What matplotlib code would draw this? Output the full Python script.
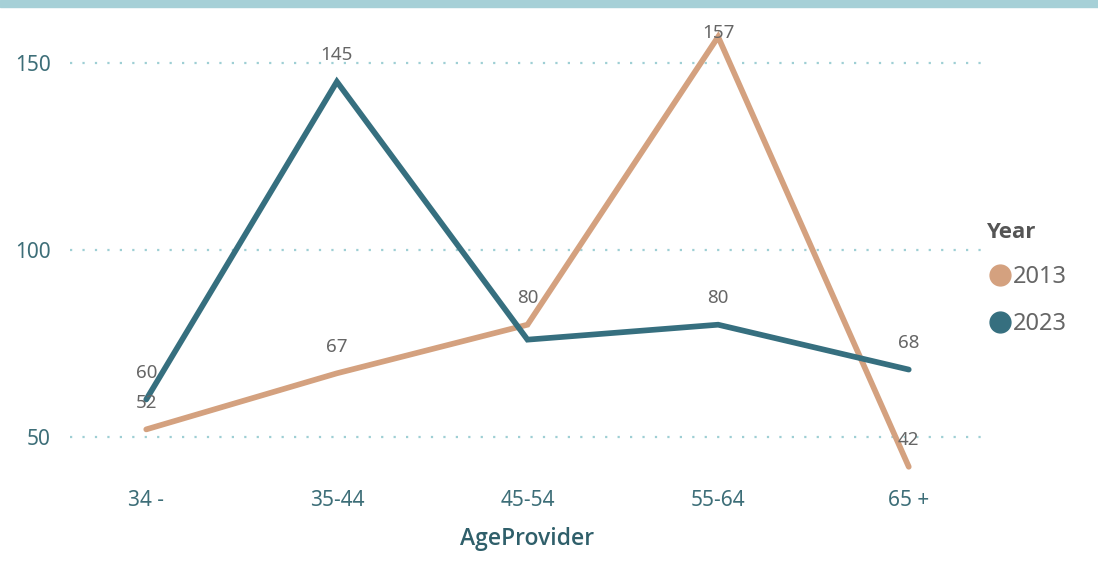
import matplotlib
matplotlib.use('Agg')
import matplotlib.pyplot as plt
from matplotlib.lines import Line2D
import numpy as np

plt.rcParams['font.family'] = ['Noto Sans', 'DejaVu Sans']

ages = ['34 -', '35-44', '45-54', '55-64', '65 +']
years = ['2013', '2023']
v2013 = [52, 67, 80, 157, 42]
v2023 = [60, 145, 76, 80, 68]
# Power BI hid the 2023 label at 45-54 (overlap)
show2013 = [True, True, True, True, True]
show2023 = [True, True, False, True, True]

c2013 = '#D4A17F'
c2023 = '#366F7F'
tick_col = '#3D6E78'
lab_col = '#666666'

fig = plt.figure(figsize=(10.98, 5.61), dpi=100)
# top bar
fig.patches.append(plt.Rectangle((0, 1 - 7/561), 1, 7/561, transform=fig.transFigure,
                                 color='#A6D0D7', zorder=0))

ax = fig.add_axes([70/1098, 86/561, 915/1098, 455/561])
x = np.arange(len(ages))

ax.plot(x, v2013, color=c2013, lw=4.1, solid_capstyle='round', solid_joinstyle='miter', zorder=3)
ax.plot(x, v2023, color=c2023, lw=4.1, solid_capstyle='round', solid_joinstyle='miter', zorder=4)

ax.set_xlim(-0.4, 4.4)
ax.set_ylim(39.8, 161.5)
ax.set_yticks([50, 100, 150])
ax.set_xticks(x)
ax.set_xticklabels(ages)

for yv in [50, 100, 150]:
    ax.axhline(yv, color='#9ECFD4', lw=1.6, ls=(0, (1, 4.6)), zorder=1)

for s in ax.spines.values():
    s.set_visible(False)
ax.tick_params(length=0, labelsize=15, colors=tick_col)
ax.tick_params(axis='y', pad=14)
ax.tick_params(axis='x', pad=11)
ax.set_xlabel('AgeProvider', fontsize=16.5, color='#2F5F6A', fontweight='semibold',
              family=['Open Sans', 'DejaVu Sans'], labelpad=11)

for vals, show in [(v2013, show2013), (v2023, show2023)]:
    for i, v in enumerate(vals):
        if not show[i]:
            continue
        off = 3 if v > 155 else 19
        ax.annotate(str(v), (i, v), xytext=(0, off), textcoords='offset points',
                    ha='center', va='center', fontsize=13.5, color=lab_col, zorder=5)

handles = [Line2D([], [], marker='o', ls='none', markersize=15, color=c2013),
           Line2D([], [], marker='o', ls='none', markersize=15, color=c2023)]
leg = fig.legend(handles, years, title='Year', loc='upper left',
                 bbox_to_anchor=(986/1098, 1 - 222/561), frameon=False,
                 fontsize=17, labelcolor='#666666', handletextpad=0.0,
                 labelspacing=0.95, alignment='left', handlelength=1.15,
                 borderaxespad=0, borderpad=0)
leg.get_title().set_fontproperties({'family': ['Open Sans', 'DejaVu Sans'],
                                    'weight': 'bold', 'size': 16})
leg.get_title().set_color('#555555')

fig.savefig('out.png', dpi=100)
